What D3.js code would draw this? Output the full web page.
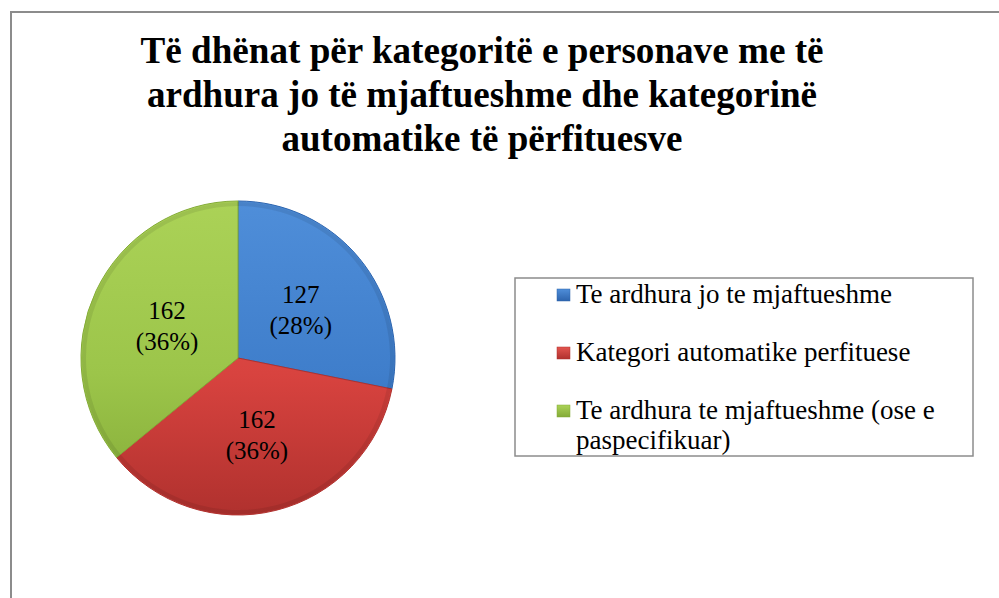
<!DOCTYPE html>
<html>
<head>
<meta charset="utf-8">
<script src="https://cdn.jsdelivr.net/npm/d3@7"></script>
</head>
<body style="margin:0">
<script>
// chart data
const titleLines = [
    "Të dhënat për kategoritë e personave me të",
    "ardhura jo të mjaftueshme dhe kategorinë",
    "automatike të përfituesve"
];
const categories = [
    "Te ardhura jo te mjaftueshme",
    "Kategori automatike perfituese",
    "Te ardhura te mjaftueshme (ose e paspecifikuar)"
];
const values = [127, 162, 162];
const colors = ["#3f7ecb", "#d8433f", "#9cc54a"];
const lightColors = ["#4f8ed9", "#e3554f", "#abd257"];
const darkColors = ["#2d64ad", "#b0312e", "#83aa37"];

const W = 999, H = 598;
const serif = '"Liberation Serif"';
const svg = d3.select("body").append("svg")
    .attr("width", W)
    .attr("height", H)
    .style("display", "block");

// outer frame (cut off on right and bottom)
svg.append("rect")
    .attr("x", 11).attr("y", 12)
    .attr("width", 1000).attr("height", 620)
    .attr("fill", "#fff")
    .attr("stroke", "#8c8c8c")
    .attr("stroke-width", 2);

// title
const titleWidths = [683, 670, 401];
titleLines.forEach((t, i) => {
    svg.append("text")
        .attr("x", 482)
        .attr("y", 63 + i * 44)
        .attr("text-anchor", "middle")
        .attr("font-size", 38)
        .attr("font-weight", "bold")
        .style("font-family", serif)
        .attr("textLength", titleWidths[i])
        .attr("lengthAdjust", "spacingAndGlyphs")
        .text(t);
});

// gradients for the bevelled look
const defs = svg.append("defs");
values.forEach((v, i) => {
    const g = defs.append("linearGradient")
        .attr("id", "grad" + i)
        .attr("gradientUnits", "userSpaceOnUse")
        .attr("x1", 0).attr("y1", -157).attr("x2", 0).attr("y2", 157);
    g.append("stop").attr("offset", "0%").attr("stop-color", lightColors[i]);
    g.append("stop").attr("offset", "55%").attr("stop-color", colors[i]);
    g.append("stop").attr("offset", "100%").attr("stop-color", darkColors[i]);
});

// pie
const cx = 238, cy = 358, radius = 157;
const pie = d3.pie().sort(null).value(d => d);
const arc = d3.arc().innerRadius(0).outerRadius(radius);
const labelArc = d3.arc().innerRadius(0).outerRadius(radius);
const total = d3.sum(values);
const fmtPct = d3.format(".0%");

const pieG = svg.append("g").attr("transform", `translate(${cx},${cy})`);
const arcs = pie(values);

pieG.selectAll("path.slice")
    .data(arcs)
    .enter()
    .append("path")
    .attr("class", "slice")
    .attr("d", arc)
    .attr("fill", (d, i) => `url(#grad${i})`)
    .attr("stroke", (d, i) => darkColors[i])
    .attr("stroke-width", 1);

// inner bevel shade
const bevelArc = d3.arc().innerRadius(radius - 5).outerRadius(radius - 1);
pieG.selectAll("path.bevel")
    .data(arcs)
    .enter()
    .append("path")
    .attr("class", "bevel")
    .attr("d", bevelArc)
    .attr("fill", "#000")
    .attr("opacity", 0.08);

// data labels
const labelOffsets = [[2, 1], [0, 0], [0, 1]];
arcs.forEach((d, i) => {
    const c = labelArc.centroid(d);
    const x = c[0] + labelOffsets[i][0], y = c[1] + labelOffsets[i][1];
    [String(values[i]), "(" + fmtPct(values[i] / total) + ")"].forEach((s, j) => {
        pieG.append("text")
            .attr("x", x)
            .attr("y", y - 6 + j * 31)
            .attr("text-anchor", "middle")
            .attr("font-size", 25)
            .style("font-family", serif)
            .attr("fill", "#000")
            .text(s);
    });
});

// legend
const legend = svg.append("g");
legend.append("rect")
    .attr("x", 515).attr("y", 278)
    .attr("width", 458).attr("height", 178)
    .attr("fill", "#fff")
    .attr("stroke", "#8c8c8c")
    .attr("stroke-width", 1.5);

const legendLines = [["Te ardhura jo te mjaftueshme"], ["Kategori automatike perfituese"],
    ["Te ardhura te mjaftueshme (ose e", "paspecifikuar)"]];
const rowY = [303, 361, 419];
categories.forEach((c, i) => {
    const y = rowY[i];
    const lg = defs.append("linearGradient")
        .attr("id", "lg" + i)
        .attr("x1", 0).attr("y1", 0).attr("x2", 0).attr("y2", 1);
    lg.append("stop").attr("offset", "0%").attr("stop-color", lightColors[i]);
    lg.append("stop").attr("offset", "100%").attr("stop-color", darkColors[i]);
    legend.append("rect")
        .attr("x", 557).attr("y", y - 14)
        .attr("width", 13).attr("height", 12)
        .attr("fill", `url(#lg${i})`)
        .attr("stroke", darkColors[i])
        .attr("stroke-width", 0.5);

    legendLines[i].forEach((line, j) => {
        legend.append("text")
            .attr("x", 576)
            .attr("y", y + j * 30)
            .attr("font-size", 27)
            .style("font-family", serif)
            .attr("fill", "#000")
            .text(line);
    });
});
</script>
</body>
</html>
